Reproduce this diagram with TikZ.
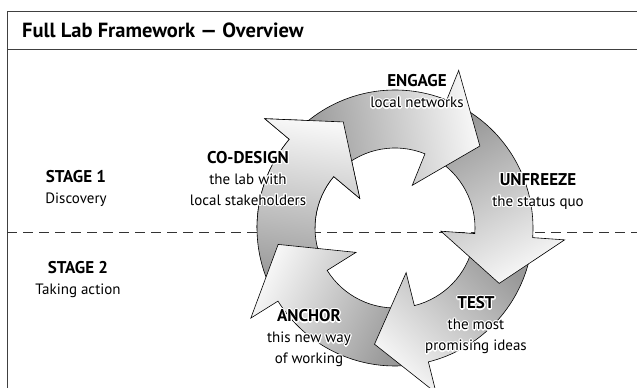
\documentclass[tikz,border=0pt]{standalone}
\usepackage{fontspec}
\setmainfont{PT Sans}
\usepackage{contour}
\contourlength{1.2pt}

\def\ringout{138}
\def\ringin{80}
\def\barbout{170}
\def\barbin{46}
\def\tipr{118}
\def\cyclearrow#1{(#1+64:\ringout) arc[start angle=#1+64, end angle=#1, radius=\ringout]
  -- (#1:\barbout) -- (#1-24:\tipr) -- (#1:\barbin) -- (#1:\ringin)
  arc[start angle=#1, end angle=#1+64, radius=\ringin] -- cycle}
\def\halo#1{\contour{white}{#1}}

\begin{document}
\begin{tikzpicture}[x=1pt,y=1pt]
    \tikzstyle{cycarrow}=[draw=black,line width=0.6pt,top color=black!40,bottom color=black!3]
    \tikzstyle{frameline}=[draw=black!75,line width=0.9pt]
    \tikzstyle{stagelabel}=[align=center,inner sep=0pt,font=\fontsize{15}{21}\selectfont]
    \tikzstyle{cyclelabel}=[align=center,inner sep=0pt,font=\fontsize{15}{21}\selectfont]

    \useasboundingbox (0,0) rectangle (637,388);

    % frame and title
    \draw[frameline] (637,377) -- (7,377) -- (7,0);
    \draw[frameline] (7,339) -- (637,339);
    \node[anchor=west,inner sep=0pt,font=\fontsize{20.5}{24}\selectfont\bfseries] (title) at (22,358) {Full Lab Framework --- Overview};

    % stages
    \draw[black!80,line width=0.8pt,dash pattern=on 10pt off 6pt] (7,156) -- (637,156);
    \node[stagelabel] (stage1) at (76,200) {{\fontsize{17}{21}\selectfont\bfseries STAGE 1}\\Discovery};
    \node[stagelabel] (stage2) at (78,108) {{\fontsize{17}{21}\selectfont\bfseries STAGE 2}\\Taking action};

    % the cycle
    \begin{scope}[shift={(395,160)}]
        \draw[cycarrow,shading angle=172] \cyclearrow{140};
        \draw[cycarrow,shading angle=-116] \cyclearrow{-148};
        \draw[cycarrow,shading angle=-44] \cyclearrow{-76};
        \draw[cycarrow,shading angle=28] \cyclearrow{-4};
        \draw[cycarrow,shading angle=100] \cyclearrow{68};
        % co-design head goes over the engage tail
        \begin{scope}
            \clip (-200,0) rectangle (0,200);
            \draw[cycarrow,shading angle=172] \cyclearrow{140};
        \end{scope}
    \end{scope}

    \node[cyclelabel] (codesign) at (248,209) {{\fontsize{17}{21}\selectfont\bfseries\halo{CO-DESIGN}}\\\halo{the lab with}\\\halo{local stakeholders}};
    \node[cyclelabel] (engage) at (417,296) {{\fontsize{17}{21}\selectfont\bfseries\halo{ENGAGE}}\\\halo{local networks}};
    \node[cyclelabel] (unfreeze) at (538,196) {{\fontsize{17}{21}\selectfont\bfseries\halo{UNFREEZE}}\\\halo{the status quo}};
    \node[cyclelabel] (test) at (476,62) {{\fontsize{17}{21}\selectfont\bfseries\halo{TEST}}\\\halo{the most}\\\halo{promising ideas}};
    \node[cyclelabel] (anchor) at (309,49) {{\fontsize{17}{21}\selectfont\bfseries\halo{ANCHOR}}\\\halo{this new way}\\\halo{of working}};
\end{tikzpicture}
\end{document}
